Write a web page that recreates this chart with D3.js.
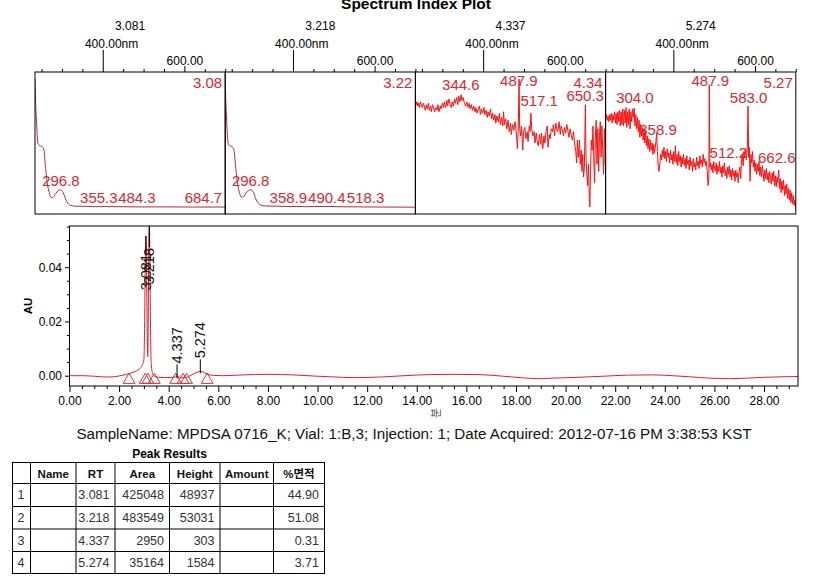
<!DOCTYPE html>
<html><head><meta charset="utf-8">
<script src="https://cdn.jsdelivr.net/npm/d3@7/dist/d3.min.js"></script>
<style>
html,body{margin:0;padding:0;background:#fff;}
svg{display:block;font-family:"Liberation Sans",Arial,"Noto Sans CJK KR",sans-serif;}
</style></head><body>
<svg id="c" width="819" height="583"></svg>
<script>
// ---------------- DATA ----------------
const plotTitle = "Spectrum Index Plot";
const panelRTs = ["3.081", "3.218", "4.337", "5.274"];
const panelTags = ["3.08", "3.22", "4.34", "5.27"];
const nmMinorTicks = [250, 300, 350, 450, 500, 550, 650, 700];
const nmMajorTicks = [400, 600];

// spectra: [wavelength nm, relative absorbance]
const spec1 = [[234,0.95],[235.6,0.78],[238,0.64],[241,0.50],[244,0.485],[248,0.478],[253,0.47],[256,0.45],[260,0.32],[264,0.22],[269,0.15],[274,0.115],[279,0.12],[285,0.145],[291,0.165],[297,0.17],[303,0.15],[309,0.105],[315,0.075],[322,0.06],[335,0.055],[355,0.054],[380,0.052],[420,0.052],[484,0.05],[550,0.05],[620,0.049],[685,0.049],[700,0.049]];
const spec2 = [[234,0.96],[235.5,0.80],[237.5,0.66],[240,0.53],[242,0.488],[245,0.48],[249,0.475],[253,0.468],[256,0.44],[260,0.32],[264,0.22],[269,0.15],[274,0.118],[279,0.122],[285,0.148],[291,0.166],[297,0.172],[303,0.152],[309,0.106],[315,0.076],[322,0.062],[335,0.056],[359,0.055],[390,0.053],[430,0.052],[490,0.053],[518,0.051],[560,0.05],[620,0.049],[700,0.048]];
const spec3 = [[234,0.80],[236,0.77],[238,0.79],[240,0.76],[242,0.78],[244,0.75],[246,0.79],[248,0.77],[251,0.75],[253,0.78],[256,0.76],[258,0.73],[261,0.77],[263,0.74],[266,0.78],[268,0.73],[271,0.76],[273,0.72],[276,0.77],[279,0.74],[281,0.72],[284,0.75],[287,0.73],[289,0.77],[292,0.72],[295,0.76],[297,0.74],[300,0.78],[303,0.75],[305,0.79],[308,0.75],[311,0.80],[313,0.76],[316,0.81],[319,0.77],[322,0.75],[324,0.79],[327,0.76],[330,0.81],[332,0.78],[335,0.82],[338,0.77],[340,0.83],[343,0.79],[346,0.84],[348,0.80],[351,0.82],[354,0.78],[357,0.76],[360,0.79],[363,0.75],[366,0.78],[368,0.74],[371,0.77],[374,0.73],[377,0.76],[380,0.72],[382,0.75],[385,0.71],[388,0.74],[391,0.76],[393,0.70],[396,0.74],[399,0.71],[402,0.75],[404,0.70],[407,0.73],[410,0.68],[412,0.72],[415,0.69],[418,0.74],[421,0.67],[423,0.71],[426,0.66],[429,0.70],[431,0.64],[434,0.69],[437,0.65],[440,0.71],[442,0.63],[445,0.68],[448,0.62],[450,0.72],[452,0.63],[455,0.67],[458,0.60],[461,0.66],[464,0.58],[467,0.64],[469,0.56],[472,0.63],[475,0.59],[478,0.65],[481,0.58],[484,0.46],[486,0.60],[488,0.95],[489.5,0.60],[492,0.55],[494,0.62],[497,0.45],[499,0.58],[502,0.61],[505,0.53],[508,0.58],[510,0.51],[513,0.62],[515,0.58],[517,0.71],[519,0.60],[522,0.55],[525,0.58],[527,0.50],[530,0.57],[532,0.52],[535,0.48],[538,0.56],[541,0.49],[543,0.57],[546,0.46],[549,0.55],[551,0.50],[554,0.58],[557,0.62],[559,0.47],[562,0.56],[564,0.53],[567,0.60],[570,0.58],[572,0.63],[575,0.55],[578,0.64],[580,0.60],[583,0.58],[586,0.65],[589,0.56],[591,0.62],[594,0.59],[597,0.55],[599,0.61],[602,0.57],[605,0.63],[608,0.58],[610,0.54],[613,0.60],[616,0.55],[619,0.52],[621,0.58],[624,0.50],[627,0.44],[629,0.36],[631,0.52],[633,0.40],[636,0.52],[638,0.35],[640,0.45],[642,0.30],[644,0.42],[646,0.26],[648,0.33],[650.5,0.77],[652,0.40],[654,0.28],[656,0.20],[658,0.35],[660,0.12],[661.5,0.05],[663,0.30],[665,0.52],[667,0.45],[669,0.62],[671,0.40],[673,0.22],[675,0.55],[677,0.66],[679,0.35],[681,0.60],[683,0.30],[685,0.55],[687,0.65],[689,0.40],[691,0.62],[693,0.45],[695,0.28],[697,0.60],[699,0.35],[700,0.38]];
const spec4 = [[234,0.68],[236,0.70],[238,0.66],[240,0.69],[242,0.65],[244,0.70],[246,0.66],[248,0.71],[250,0.64],[252,0.70],[254,0.66],[256,0.72],[258,0.64],[260,0.71],[262,0.63],[264,0.72],[266,0.65],[268,0.73],[270,0.62],[272,0.72],[274,0.63],[276,0.74],[278,0.62],[280,0.73],[282,0.64],[284,0.75],[286,0.61],[288,0.72],[290,0.63],[292,0.74],[294,0.60],[296,0.72],[298,0.65],[300,0.74],[302,0.68],[304,0.745],[306,0.62],[308,0.70],[310,0.60],[312,0.68],[314,0.58],[316,0.66],[318,0.54],[320,0.63],[322,0.55],[324,0.61],[326,0.52],[328,0.60],[330,0.50],[332,0.58],[334,0.48],[336,0.55],[338,0.46],[340,0.53],[342,0.44],[344,0.52],[346,0.45],[348,0.50],[350,0.42],[352,0.49],[354,0.43],[357,0.50],[359,0.57],[361,0.44],[363,0.33],[365,0.30],[367,0.36],[369,0.42],[371,0.38],[373,0.45],[375,0.40],[377,0.47],[379,0.39],[381,0.44],[383,0.37],[385,0.46],[387,0.40],[389,0.43],[391,0.36],[393,0.45],[395,0.38],[397,0.42],[399,0.35],[401,0.44],[403,0.37],[405,0.48],[407,0.36],[409,0.42],[411,0.34],[413,0.44],[415,0.37],[417,0.41],[419,0.33],[421,0.40],[423,0.35],[425,0.42],[427,0.34],[429,0.39],[431,0.32],[433,0.41],[435,0.35],[437,0.38],[439,0.31],[441,0.40],[443,0.34],[445,0.37],[447,0.30],[449,0.39],[451,0.33],[453,0.36],[455,0.31],[457,0.40],[459,0.34],[461,0.37],[463,0.32],[465,0.41],[467,0.35],[469,0.38],[471,0.33],[473,0.42],[475,0.36],[477,0.39],[479,0.34],[481,0.37],[483,0.30],[485,0.20],[487,0.26],[488,0.91],[489.5,0.33],[491,0.36],[493,0.31],[495,0.35],[497,0.29],[499,0.37],[501,0.32],[503,0.30],[505,0.36],[507,0.28],[509,0.34],[511,0.30],[513,0.37],[515,0.29],[517,0.33],[519,0.26],[521,0.34],[523,0.29],[525,0.36],[527,0.27],[529,0.31],[531,0.25],[533,0.33],[535,0.28],[537,0.34],[539,0.26],[541,0.31],[543,0.24],[545,0.32],[547,0.27],[549,0.30],[551,0.23],[553,0.31],[555,0.26],[557,0.29],[559,0.22],[561,0.30],[563,0.33],[565,0.25],[567,0.38],[569,0.42],[571,0.34],[573,0.44],[575,0.40],[577,0.46],[579,0.38],[581,0.45],[583,0.76],[584.5,0.40],[586,0.47],[588,0.23],[590,0.42],[592,0.36],[594,0.44],[596,0.33],[598,0.38],[600,0.30],[602,0.36],[604,0.28],[606,0.35],[608,0.30],[610,0.37],[612,0.27],[614,0.33],[616,0.26],[618,0.34],[620,0.29],[622,0.23],[624,0.31],[626,0.25],[628,0.32],[630,0.24],[632,0.29],[634,0.22],[636,0.30],[638,0.25],[640,0.21],[642,0.29],[644,0.23],[646,0.30],[648,0.20],[650,0.27],[652,0.19],[654,0.26],[656,0.22],[658,0.31],[660,0.18],[662,0.25],[664,0.15],[666,0.23],[668,0.17],[670,0.24],[672,0.13],[674,0.20],[676,0.14],[678,0.21],[680,0.11],[682,0.18],[684,0.10],[686,0.17],[688,0.08],[690,0.15],[692,0.07],[694,0.13],[696,0.06],[698,0.10],[700,0.03]];

// spectrum peak labels: [text, anchor nm (centre), anchor value (baseline)]
const labels1 = [["296.8",297.5,0.197],["355.3",390.5,0.077],["484.3",483.7,0.077],["684.7",646.6,0.077]];
const labels2 = [["296.8",296.5,0.197],["358.9",388.8,0.077],["490.4",483.1,0.077],["518.3",578,0.077]];
const labels3 = [["344.6",345.4,0.873],["487.9",487.4,0.901],["517.1",537.2,0.761],["650.3",650,0.796]];
const labels4 = [["304.0",305.9,0.782],["358.9",362.4,0.556],["487.9",490.5,0.901],["583.0",584.3,0.782],["512.2",534.7,0.394],["662.6",653.4,0.359]];

// chromatogram: [time min, AU]
const chrom = [[0,0.0000],[0.5,0.0000],[1.0,-0.0002],[1.5,-0.0005],[1.8,-0.0004],[2.0,-0.0001],[2.3,0.0005],[2.6,0.0014],[2.8,0.0024],[2.95,0.0042],[3.0,0.0060],[3.03,0.020],[3.055,0.042],[3.081,0.0515],[3.11,0.038],[3.14,0.010],[3.155,0.007],[3.17,0.015],[3.195,0.045],[3.218,0.0565],[3.245,0.040],[3.27,0.015],[3.30,0.004],[3.35,0.0008],[3.45,-0.0003],[3.6,-0.0006],[3.9,-0.0007],[4.2,-0.0006],[4.337,-0.0003],[4.45,-0.0006],[4.6,-0.0008],[4.75,-0.0005],[4.9,0.0002],[5.1,0.0011],[5.274,0.0016],[5.45,0.0011],[5.6,0.0005],[5.8,0.0001],[6.2,0.0000],[7.0,0.0003],[8.0,0.0005],[9.0,0.0003],[10.0,-0.0002],[11.0,-0.0006],[11.5,-0.0007],[12.5,-0.0005],[13.5,0.0000],[14.5,0.0004],[15.5,0.0005],[16.5,0.0004],[17.5,-0.0002],[18.3,-0.0008],[18.9,-0.0011],[19.5,-0.0009],[20.5,-0.0006],[21.5,-0.0002],[22.5,0.0002],[23.5,0.0003],[24.3,0.0000],[25.0,-0.0004],[25.8,-0.0009],[26.6,-0.0011],[27.3,-0.0009],[28.0,-0.0006],[29.37,-0.0003]];
const integrationMarks = [2.40, 3.05, 3.16, 3.42, 4.28, 4.58, 4.72, 5.55];
const xMajorTicks = [0,2,4,6,8,10,12,14,16,18,20,22,24,26,28];
const yMajorTicks = [0, 0.02, 0.04];

const sampleLine = "SampleName: MPDSA 0716_K; Vial: 1:B,3; Injection: 1; Date Acquired: 2012-07-16 PM 3:38:53 KST";
const tableTitle = "Peak Results";
const tableHeaders = ["", "Name", "RT", "Area", "Height", "Amount", "%면적"];
const peakNo = ["1", "2", "3", "4"];
const peakName = ["", "", "", ""];
const peakRT = [3.081, 3.218, 4.337, 5.274];
const peakArea = [425048, 483549, 2950, 35164];
const peakHeight = [48937, 53031, 303, 1584];
const peakAmount = ["", "", "", ""];
const peakPctArea = [44.90, 51.08, 0.31, 3.71];

// ---------------- DRAW ----------------
const svg = d3.select("#c");
const RED = "#e0262e";

svg.append("text").attr("x", 416).attr("y", 8.5).attr("text-anchor", "middle")
  .attr("font-size", 15.5).attr("font-weight", "bold").attr("fill", "#000").text(plotTitle);

const spectra = [spec1, spec2, spec3, spec4];
const specLabels = [labels1, labels2, labels3, labels4];
const pTop = 72, pBot = 214, pLeft0 = 35, pW = 190.2;
const defs = svg.append("defs");

spectra.forEach((sp, i) => {
  const L = pLeft0 + i * pW, R = L + pW;
  const x = d3.scaleLinear().domain([234, 700]).range([L, R]);
  const y = d3.scaleLinear().domain([0, 1]).range([pBot, pTop]);
  const g = svg.append("g");
  defs.append("clipPath").attr("id", "clp" + i).append("rect")
    .attr("x", L).attr("y", pTop).attr("width", pW).attr("height", pBot - pTop);

  const ax = g.append("g").attr("transform", `translate(0,${pTop})`);
  ax.call(d3.axisTop(x).tickValues(nmMinorTicks).tickSize(3).tickSizeOuter(0).tickFormat(""));
  ax.select(".domain").remove();
  const a6 = g.append("g").attr("transform", `translate(0,${pTop})`);
  a6.call(d3.axisTop(x).tickValues([nmMajorTicks[1]]).tickSize(6).tickPadding(1).tickSizeOuter(0).tickFormat(d3.format(".2f")));
  a6.select(".domain").remove();
  const a4 = g.append("g").attr("transform", `translate(0,${pTop})`);
  a4.call(d3.axisTop(x).tickValues([nmMajorTicks[0]]).tickSize(22).tickPadding(2).tickSizeOuter(0).tickFormat(d3.format(".2f")));
  a4.select(".domain").remove();
  [ax, a6, a4].forEach(a => a.selectAll("text").attr("font-size", 12).attr("fill", "#000").attr("font-family", null));
  a4.selectAll("text").each(function () {
    const t = d3.select(this);
    const w = this.getComputedTextLength();
    t.attr("text-anchor", "start").attr("x", -w / 2);
    t.append("tspan").text("nm");
  });
  g.append("text").attr("x", (L + R) / 2).attr("y", 30).attr("text-anchor", "middle")
    .attr("font-size", 12).text(panelRTs[i]);

  const lg = g.append("g").attr("clip-path", `url(#clp${i})`);
  specLabels[i].forEach(d => {
    lg.append("text").attr("x", x(d[1])).attr("y", y(d[2])).attr("text-anchor", "middle")
      .attr("font-size", 15).attr("fill", RED).text(d[0]);
  });
  g.append("text").attr("x", R - 3).attr("y", 88).attr("text-anchor", "end")
    .attr("font-size", 15).attr("fill", RED).text(panelTags[i]);

  g.append("path").datum(sp).attr("clip-path", `url(#clp${i})`)
    .attr("d", d3.line().x(d => x(d[0])).y(d => y(d[1])).curve(i < 2 ? d3.curveMonotoneX : d3.curveLinear))
    .attr("fill", "none").attr("stroke", i < 2 ? "#b8283a" : "#ff1010").attr("stroke-width", 1);

  g.append("rect").attr("x", L).attr("y", pTop).attr("width", pW).attr("height", pBot - pTop)
    .attr("fill", "none").attr("stroke", "#000").attr("stroke-width", 1);
});

// ---------------- Chromatogram ----------------
const cL = 69.5, cR = 798, cT = 226, cB = 386;
const xs = d3.scaleLinear().domain([0, 29.37]).range([cL, cR]);
const ys = d3.scaleLinear().domain([-0.0038, 0.0552]).range([cB, cT]);
const cg = svg.append("g");
defs.append("clipPath").attr("id", "clpC").append("rect")
  .attr("x", cL).attr("y", cT).attr("width", cR - cL).attr("height", cB - cT);

const xMinor = d3.range(0, 29.4, 0.5).filter(v => Math.abs(v / 2 - Math.round(v / 2)) > 1e-6);
const xa1 = cg.append("g").attr("transform", `translate(0,${cB})`)
  .call(d3.axisBottom(xs).tickValues(xMinor).tickSize(3).tickSizeOuter(0).tickFormat(""));
xa1.select(".domain").remove();
const xa2 = cg.append("g").attr("transform", `translate(0,${cB})`)
  .call(d3.axisBottom(xs).tickValues(xMajorTicks).tickSize(6).tickPadding(4.5).tickSizeOuter(0).tickFormat(d3.format(".2f")));
xa2.select(".domain").remove();
const yMinor = d3.range(0, 0.0551, 0.005).filter(v => Math.abs(v / 0.02 - Math.round(v / 0.02)) > 1e-6);
const ya1 = cg.append("g").attr("transform", `translate(${cL},0)`)
  .call(d3.axisLeft(ys).tickValues(yMinor).tickSize(2.7).tickSizeOuter(0).tickFormat(""));
ya1.select(".domain").remove();
const ya2 = cg.append("g").attr("transform", `translate(${cL},0)`)
  .call(d3.axisLeft(ys).tickValues(yMajorTicks).tickSize(4.5).tickPadding(3).tickSizeOuter(0).tickFormat(d3.format(".2f")));
ya2.select(".domain").remove();
[xa2, ya2].forEach(a => a.selectAll("text").attr("font-size", 12).attr("fill", "#000").attr("font-family", null));

cg.append("text").attr("transform", "translate(32,306) rotate(-90)").attr("text-anchor", "middle")
  .attr("font-size", 11.5).attr("font-weight", "bold").text("AU");
cg.append("text").attr("transform", "translate(440,413) rotate(-90)").attr("text-anchor", "middle")
  .attr("font-size", 11).attr("fill", "#444").text("분");

const tri = d3.symbol().type(d3.symbolTriangle).size(60);
cg.append("g").attr("clip-path", "url(#clpC)").selectAll("path").data(integrationMarks).join("path")
  .attr("d", tri).attr("transform", t => `translate(${xs(t)},${cB - 6})`)
  .attr("fill", "none").attr("stroke", "#e0303a").attr("stroke-width", 1);

cg.append("path").datum(chrom).attr("clip-path", "url(#clpC)")
  .attr("d", d3.line().x(d => xs(d[0])).y(d => ys(d[1])).curve(d3.curveMonotoneX))
  .attr("fill", "none").attr("stroke", "#e0202a").attr("stroke-width", 1);

// peak labels (tall peaks have their labels pushed down inside the frame)
const tallLabelTop = [254, 248];
peakRT.forEach((rt, i) => {
  const pt = chrom.find(d => Math.abs(d[0] - rt) < 1e-9);
  const px = xs(rt);
  const apexY = Math.max(ys(pt[1]), cT);
  let lineTop, lineBot, labelY, anchor;
  if (apexY - 14 - 38 < cT) {
    lineTop = apexY; labelY = tallLabelTop[i] ; lineBot = labelY - 1; anchor = "end";
  } else {
    lineBot = apexY + 2; lineTop = apexY - 12; labelY = lineTop - 1; anchor = "start";
  }
  cg.append("line").attr("x1", px).attr("x2", px).attr("y1", lineTop).attr("y2", lineBot)
    .attr("stroke", "#000").attr("stroke-width", 1);
  cg.append("text").attr("transform", `translate(${px + 5},${labelY}) rotate(-90)`)
    .attr("text-anchor", anchor).attr("font-size", 14.5).attr("fill", "#111").text(rt.toFixed(3));
});

cg.append("rect").attr("x", cL).attr("y", cT).attr("width", cR - cL).attr("height", cB - cT)
  .attr("fill", "none").attr("stroke", "#000").attr("stroke-width", 1);

// ---------------- Sample line & table ----------------
svg.append("text").attr("x", 414).attr("y", 438.5).attr("text-anchor", "middle")
  .attr("font-size", 15.2).attr("fill", "#111").text(sampleLine);
svg.append("text").attr("x", 169.5).attr("y", 457.5).attr("text-anchor", "middle")
  .attr("font-size", 12).attr("font-weight", "bold").text(tableTitle);

const colX = [12.5, 30.5, 76, 115, 169.5, 220, 273.5, 324.5];
const rowY = [462.5, 483.5, 506.5, 529, 551.5, 573.5];
const tg = svg.append("g");
tg.append("rect").attr("x", colX[0]).attr("y", rowY[0]).attr("width", colX[7] - colX[0]).attr("height", rowY[5] - rowY[0])
  .attr("fill", "none").attr("stroke", "#000");
colX.slice(1, 7).forEach(cx => tg.append("line").attr("x1", cx).attr("x2", cx).attr("y1", rowY[0]).attr("y2", rowY[5]).attr("stroke", "#000"));
rowY.slice(1, 5).forEach(ry => tg.append("line").attr("x1", colX[0]).attr("x2", colX[7]).attr("y1", ry).attr("y2", ry).attr("stroke", "#000"));

tableHeaders.forEach((h, c) => {
  tg.append("text").attr("x", (colX[c] + colX[c + 1]) / 2).attr("y", 477.5).attr("text-anchor", "middle")
    .attr("font-size", 11.5).attr("font-weight", "bold").attr("fill", "#111").text(h);
});
const fmtRT = d3.format(".3f"), fmtPct = d3.format(".2f");
peakNo.forEach((n, r) => {
  const by = (rowY[r + 1] + rowY[r + 2]) / 2 + 4.3;
  const cells = [n, peakName[r], fmtRT(peakRT[r]), String(peakArea[r]), String(peakHeight[r]), peakAmount[r], fmtPct(peakPctArea[r])];
  cells.forEach((v, c) => {
    const t = tg.append("text").attr("y", by).attr("font-size", 12.5).attr("fill", "#333").text(v);
    if (c === 0) t.attr("x", colX[0] + 5);
    else t.attr("x", colX[c + 1] - 5.5).attr("text-anchor", "end");
  });
});
</script>
</body></html>
